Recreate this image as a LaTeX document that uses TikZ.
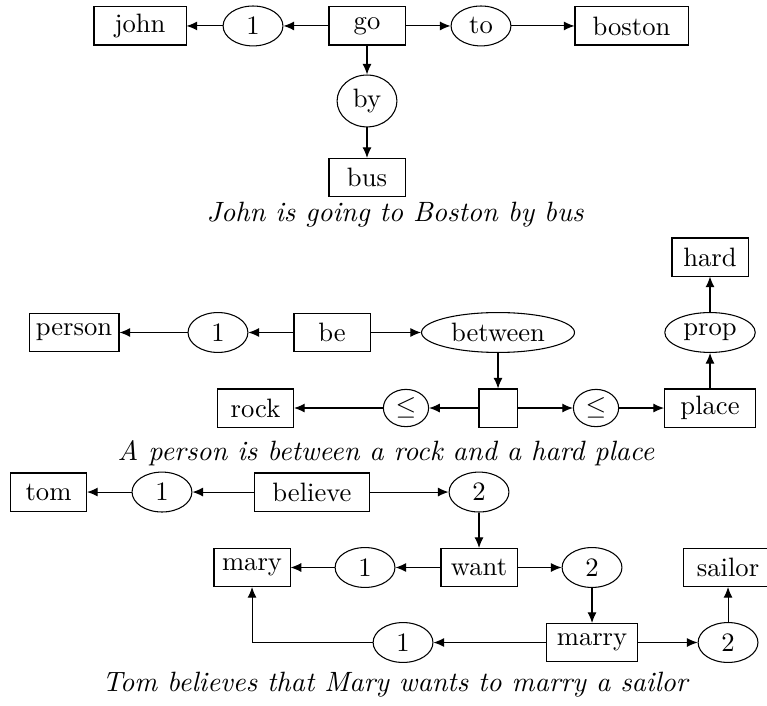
\documentclass[tikz,border=0pt]{standalone}
\usetikzlibrary{shapes.geometric,arrows.meta}

\begin{document}
\begin{tikzpicture}[>={Latex[length=4pt,width=3.4pt]},
            box/.style={draw,rectangle,minimum width=28.6pt,minimum height=14.3pt,inner sep=1pt},
            arg/.style={draw,ellipse,minimum width=22.5pt,minimum height=15pt,inner xsep=2pt,inner ysep=0pt},
            caption/.style={anchor=base,font=\fontsize{10.5pt}{12pt}\selectfont\itshape}]
            \useasboundingbox (0,0) rectangle (10.134,9.315);
            % John is going to Boston by bus
            \node[box,minimum width=34.6pt] (john) at (1.850,8.972) {john};
            \node[arg] (j1) at (3.343,8.972) {1};
            \node[box] (go) at (4.849,8.972) {go};
            \node[arg] (to) at (6.355,8.972) {to};
            \node[box,minimum width=42.5pt] (boston) at (8.344,8.972) {boston};
            \node[arg,minimum height=19.5pt] (by) at (4.849,7.981) {by};
            \node[box] (bus) at (4.849,6.970) {bus};
            \node[caption] (cap1) at (5.219,6.395) {John is going to Boston by bus};
            \draw[->] (go) -- (j1);
            \draw[->] (j1) -- (john);
            \draw[->] (go) -- (to);
            \draw[->] (to) -- (boston);
            \draw[->] (go) -- (by);
            \draw[->] (by) -- (bus);
            % A person is between a rock and a hard place
            \node[box] (hard) at (9.381,5.919) {hard};
            \node[box,minimum width=33.8pt] (person) at (0.978,4.922) {person};
            \node[arg] (p1) at (2.880,4.922) {1};
            \node[box] (be) at (4.387,4.922) {be};
            \node[arg,minimum width=57.5pt] (between) at (6.580,4.922) {between};
            \node[arg] (prop) at (9.381,4.922) {prop};
            \node[box] (rock) at (3.376,3.924) {rock};
            \node[arg,minimum width=17pt,minimum height=14pt] (leqL) at (5.364,3.924) {$\leq$};
            \node[box,minimum width=14.3pt] (blank) at (6.580,3.924) {};
            \node[arg,minimum width=17pt,minimum height=14pt] (leqR) at (7.875,3.924) {$\leq$};
            \node[box,minimum width=34.2pt] (place) at (9.381,3.924) {place};
            \node[caption] (cap2) at (5.100,3.237) {A person is between a rock and a hard place};
            \draw[->] (be) -- (p1);
            \draw[->] (p1) -- (person);
            \draw[->] (be) -- (between);
            \draw[->] (between) -- (blank);
            \draw[->] (blank) -- (leqL);
            \draw[->] (leqL) -- (rock);
            \draw[->] (blank) -- (leqR);
            \draw[->] (leqR) -- (place);
            \draw[->] (place) -- (prop);
            \draw[->] (prop) -- (hard);
            % Tom believes that Mary wants to marry a sailor
            \node[box] (tom) at (0.641,2.814) {tom};
            \node[arg] (t1) at (2.140,2.814) {1};
            \node[box,minimum width=42.9pt] (believe) at (4.122,2.814) {believe};
            \node[arg] (t2) at (6.329,2.814) {2};
            \node[box] (mary) at (3.330,1.817) {mary};
            \node[arg] (w1) at (4.823,1.817) {1};
            \node[box] (want) at (6.329,1.817) {want};
            \node[arg] (w2) at (7.822,1.817) {2};
            \node[box,minimum width=33.8pt] (sailor) at (9.619,1.817) {sailor};
            \node[arg] (m1) at (5.325,0.826) {1};
            \node[box,minimum width=34.2pt] (marry) at (7.822,0.826) {marry};
            \node[arg] (m2) at (9.619,0.826) {2};
            \node[caption] (cap3) at (5.219,0.185) {Tom believes that Mary wants to marry a sailor};
            \draw[->] (believe) -- (t1);
            \draw[->] (t1) -- (tom);
            \draw[->] (believe) -- (t2);
            \draw[->] (t2) -- (want);
            \draw[->] (want) -- (w1);
            \draw[->] (w1) -- (mary);
            \draw[->] (want) -- (w2);
            \draw[->] (w2) -- (marry);
            \draw[->] (marry) -- (m1);
            \draw[->] (m1) -| (mary);
            \draw[->] (marry) -- (m2);
            \draw[->] (m2) -- (sailor);
        \end{tikzpicture}
\end{document}
